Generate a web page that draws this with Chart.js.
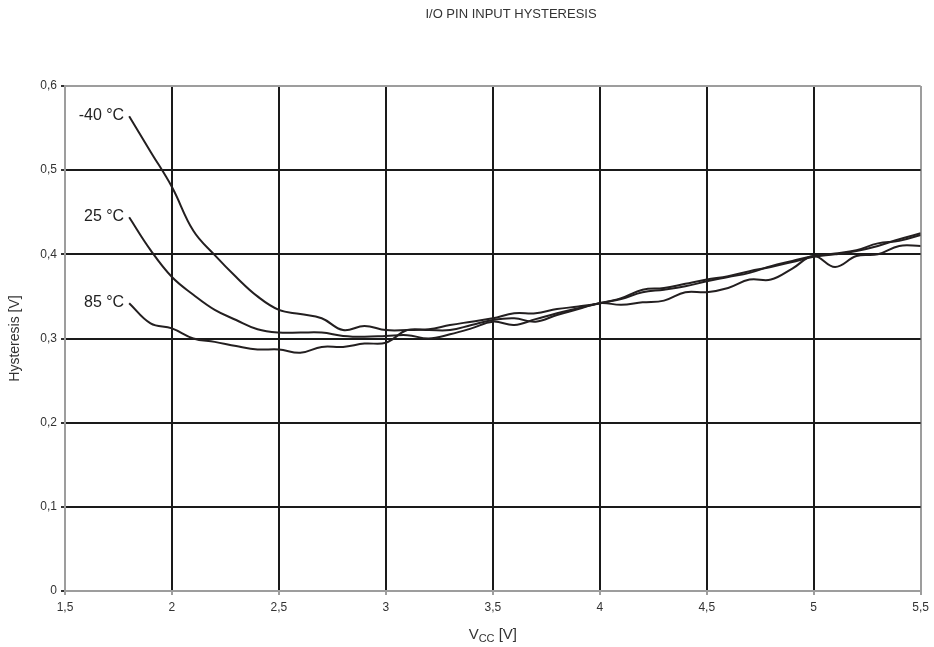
<!DOCTYPE html>
<html>
<head>
<meta charset="utf-8">
<script src="https://cdn.jsdelivr.net/npm/chart.js@4/dist/chart.umd.min.js"></script>
<style>
  html, body { margin: 0; padding: 0; background: #fff; }
  #wrap { width: 934px; height: 647px; position: relative; }
</style>
</head>
<body>
<div id="wrap"><canvas id="hystChart"></canvas></div>
<script>
// Vcc sample points (V)
const vcc = [1.8, 1.9, 2.0, 2.1, 2.2, 2.3, 2.4, 2.5, 2.6, 2.7, 2.8, 2.9, 3.0, 3.1, 3.2, 3.3, 3.4, 3.5, 3.6,
  3.7, 3.8, 3.9, 4.0, 4.1, 4.2, 4.3, 4.4, 4.5, 4.6, 4.7, 4.8, 4.9, 5.0, 5.1, 5.2, 5.3, 5.4, 5.5];

// hysteresis (V) per temperature
const hystMinus40 = [0.564, 0.522, 0.480, 0.428, 0.399, 0.373, 0.350, 0.334, 0.329, 0.324, 0.310, 0.315, 0.310,
  0.310, 0.311, 0.316, 0.320, 0.324, 0.330, 0.330, 0.335, 0.338, 0.342, 0.348, 0.358, 0.360, 0.365, 0.370,
  0.374, 0.380, 0.385, 0.391, 0.397, 0.400, 0.404, 0.410, 0.418, 0.425];
const hyst25 = [0.444, 0.405, 0.373, 0.352, 0.334, 0.322, 0.311, 0.307, 0.307, 0.307, 0.303, 0.302, 0.303,
  0.304, 0.300, 0.305, 0.312, 0.320, 0.316, 0.323, 0.330, 0.336, 0.342, 0.347, 0.355, 0.358, 0.362, 0.368,
  0.373, 0.378, 0.386, 0.392, 0.398, 0.401, 0.405, 0.413, 0.416, 0.423];
const hyst85 = [0.342, 0.318, 0.312, 0.300, 0.296, 0.291, 0.287, 0.287, 0.283, 0.290, 0.290, 0.294, 0.295,
  0.310, 0.310, 0.310, 0.316, 0.322, 0.324, 0.320, 0.328, 0.335, 0.342, 0.340, 0.343, 0.345, 0.355, 0.355,
  0.360, 0.370, 0.370, 0.383, 0.398, 0.385, 0.398, 0.400, 0.410, 0.410];

const seriesLabels = ["-40 °C", "25 °C", "85 °C"];
const xTicks = [1.5, 2, 2.5, 3, 3.5, 4, 4.5, 5, 5.5];
const yTicks = [0, 0.1, 0.2, 0.3, 0.4, 0.5, 0.6];

const LINE = "#231f20";
const GRID = "#1a1a1a";
const EDGE = "#9d9d9d";
const FONT = "'Liberation Sans', Arial, sans-serif";

function toPoints(vals) {
  return vals.map((v, i) => ({ x: vcc[i], y: v }));
}

function comma(v) {
  return (Math.round(v * 10) / 10).toString().replace(".", ",");
}

const textPlugin = {
  id: "textPlugin",
  afterDraw(chart) {
    const { ctx, scales, chartArea } = chart;
    const x = scales.x, y = scales.y;
    ctx.save();
    ctx.fillStyle = "#222";

    // curve labels at the start of each line
    ctx.font = "16px " + FONT;
    ctx.textAlign = "right";
    ctx.textBaseline = "middle";
    chart.data.datasets.forEach((ds) => {
      const p = ds.data[0];
      ctx.fillText(ds.label, x.getPixelForValue(p.x) - 5, y.getPixelForValue(p.y) - 1);
    });

    // title
    ctx.fillStyle = "#333";
    ctx.font = "13px " + FONT;
    ctx.textAlign = "center";
    ctx.textBaseline = "middle";
    ctx.fillText("I/O PIN INPUT HYSTERESIS", 511, 14);

    // y axis title
    ctx.save();
    ctx.translate(15, (chartArea.top + chartArea.bottom) / 2);
    ctx.rotate(-Math.PI / 2);
    ctx.font = "14px " + FONT;
    ctx.fillText("Hysteresis [V]", 0, 0);
    ctx.restore();

    // x axis title with subscript
    const cx = (chartArea.left + chartArea.right) / 2;
    const by = 639;
    ctx.textAlign = "left";
    ctx.textBaseline = "alphabetic";
    ctx.font = "15px " + FONT;
    const wV = ctx.measureText("V").width;
    ctx.font = "11px " + FONT;
    const wCC = ctx.measureText("CC").width;
    ctx.font = "15px " + FONT;
    const wRest = ctx.measureText(" [V]").width;
    let sx = cx - (wV + wCC + wRest) / 2;
    ctx.fillText("V", sx, by);
    sx += wV;
    ctx.font = "11px " + FONT;
    ctx.fillText("CC", sx, by + 3);
    sx += wCC;
    ctx.font = "15px " + FONT;
    ctx.fillText(" [V]", sx, by);

    ctx.restore();
  }
};

const ctx = document.getElementById("hystChart").getContext("2d");

new Chart(ctx, {
  type: "line",
  data: {
    datasets: [
      { label: seriesLabels[0], data: toPoints(hystMinus40) },
      { label: seriesLabels[1], data: toPoints(hyst25) },
      { label: seriesLabels[2], data: toPoints(hyst85) }
    ].map((d) => Object.assign(d, {
      borderColor: LINE,
      borderWidth: 2,
      pointRadius: 0,
      fill: false,
      tension: 0.4
    }))
  },
  options: {
    responsive: true,
    maintainAspectRatio: false,
    animation: false,
    layout: { padding: { left: 0, top: 86, right: 10, bottom: 0 } },
    plugins: {
      legend: { display: false },
      tooltip: { enabled: false },
      title: { display: false }
    },
    scales: {
      x: {
        type: "linear",
        min: xTicks[0],
        max: xTicks[xTicks.length - 1],
        afterBuildTicks: (scale) => { scale.ticks = xTicks.map((v) => ({ value: v })); },
        afterFit: (scale) => { scale.height = 56; },
        grid: {
          color: (c) => (c.tick && (c.tick.value === xTicks[0] || c.tick.value === xTicks[xTicks.length - 1]) ? EDGE : GRID),
          lineWidth: 2,
          tickLength: 4,
          tickColor: EDGE
        },
        border: { display: true, color: EDGE, width: 2 },
        ticks: {
          callback: (v) => comma(v),
          color: "#333",
          font: { family: FONT, size: 12 },
          padding: 5,
          maxRotation: 0
        }
      },
      y: {
        type: "linear",
        min: yTicks[0],
        max: yTicks[yTicks.length - 1],
        afterBuildTicks: (scale) => { scale.ticks = yTicks.map((v) => ({ value: v })); },
        afterFit: (scale) => { scale.width = 65; },
        grid: {
          color: (c) => (c.tick && (c.tick.value === yTicks[0] || c.tick.value === yTicks[yTicks.length - 1]) ? EDGE : GRID),
          lineWidth: 2,
          tickLength: 4,
          tickColor: "#333"
        },
        border: { display: true, color: EDGE, width: 2 },
        ticks: {
          callback: (v) => comma(v),
          color: "#333",
          font: { family: FONT, size: 12 },
          padding: 4
        }
      }
    }
  },
  plugins: [textPlugin]
});
</script>
</body>
</html>
